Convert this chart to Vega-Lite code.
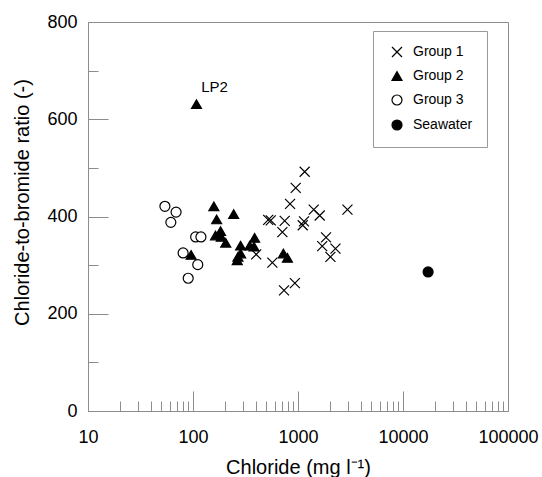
{
  "$schema": "https://vega.github.io/schema/vega-lite/v6.json",
  "width": 420,
  "height": 389,
  "autosize": {"type": "none"},
  "padding": {"left": 88, "top": 22, "right": 34, "bottom": 66},
  "background": "white",
  "config": {
    "font": "Liberation Sans",
    "view": {"stroke": "#8c8c8c", "strokeWidth": 1},
    "axis": {
      "grid": false,
      "domainColor": "#8c8c8c",
      "tickColor": "#8c8c8c",
      "labelColor": "black",
      "titleColor": "black",
      "labelFont": "Liberation Sans",
      "titleFont": "Liberation Sans",
      "titleFontWeight": "normal"
    },
    "legend": {
      "title": null,
      "orient": "none",
      "legendX": 285,
      "legendY": 9,
      "padding": 14,
      "strokeColor": "#999999",
      "fillColor": "white",
      "labelFontSize": 14,
      "labelFont": "Liberation Sans",
      "labelColor": "black",
      "labelOffset": 9,
      "symbolOffset": 3,
      "rowPadding": 9,
      "symbolSize": 100,
      "symbolStrokeColor": "black",
      "symbolStrokeWidth": 1.2
    }
  },
  "data": {
    "values": [
      {"cl": 1158, "ratio": 492, "group": "Group 1"},
      {"cl": 951, "ratio": 459, "group": "Group 1"},
      {"cl": 840, "ratio": 426, "group": "Group 1"},
      {"cl": 1412, "ratio": 414, "group": "Group 1"},
      {"cl": 1610, "ratio": 402, "group": "Group 1"},
      {"cl": 2958, "ratio": 414, "group": "Group 1"},
      {"cl": 520, "ratio": 393, "group": "Group 1"},
      {"cl": 550, "ratio": 392, "group": "Group 1"},
      {"cl": 747, "ratio": 391, "group": "Group 1"},
      {"cl": 710, "ratio": 368, "group": "Group 1"},
      {"cl": 1141, "ratio": 390, "group": "Group 1"},
      {"cl": 1109, "ratio": 382, "group": "Group 1"},
      {"cl": 1849, "ratio": 357, "group": "Group 1"},
      {"cl": 1701, "ratio": 339, "group": "Group 1"},
      {"cl": 2274, "ratio": 334, "group": "Group 1"},
      {"cl": 2036, "ratio": 317, "group": "Group 1"},
      {"cl": 400, "ratio": 322, "group": "Group 1"},
      {"cl": 570, "ratio": 305, "group": "Group 1"},
      {"cl": 934, "ratio": 263, "group": "Group 1"},
      {"cl": 736, "ratio": 248, "group": "Group 1"},
      {"cl": 108, "ratio": 631, "group": "Group 2", "label": "LP2"},
      {"cl": 96, "ratio": 321, "group": "Group 2"},
      {"cl": 158, "ratio": 421, "group": "Group 2"},
      {"cl": 244, "ratio": 405, "group": "Group 2"},
      {"cl": 168, "ratio": 394, "group": "Group 2"},
      {"cl": 183, "ratio": 370, "group": "Group 2"},
      {"cl": 164, "ratio": 361, "group": "Group 2"},
      {"cl": 186, "ratio": 358, "group": "Group 2"},
      {"cl": 205, "ratio": 346, "group": "Group 2"},
      {"cl": 284, "ratio": 340, "group": "Group 2"},
      {"cl": 386, "ratio": 356, "group": "Group 2"},
      {"cl": 347, "ratio": 340, "group": "Group 2"},
      {"cl": 381, "ratio": 338, "group": "Group 2"},
      {"cl": 284, "ratio": 324, "group": "Group 2"},
      {"cl": 268, "ratio": 317, "group": "Group 2"},
      {"cl": 264, "ratio": 310, "group": "Group 2"},
      {"cl": 726, "ratio": 324, "group": "Group 2"},
      {"cl": 793, "ratio": 315, "group": "Group 2"},
      {"cl": 54, "ratio": 421, "group": "Group 3"},
      {"cl": 69, "ratio": 409, "group": "Group 3"},
      {"cl": 61.5, "ratio": 388, "group": "Group 3"},
      {"cl": 106, "ratio": 358, "group": "Group 3"},
      {"cl": 119, "ratio": 358, "group": "Group 3"},
      {"cl": 80.5, "ratio": 325, "group": "Group 3"},
      {"cl": 111, "ratio": 301, "group": "Group 3"},
      {"cl": 90, "ratio": 273, "group": "Group 3"},
      {"cl": 17340, "ratio": 286, "group": "Seawater"}
    ]
  },
  "layer": [
    {
      "mark": {"type": "point", "strokeWidth": 1.2, "opacity": 1},
      "encoding": {
        "x": {
          "field": "cl", "type": "quantitative",
          "scale": {"type": "log", "domain": [10, 100000], "nice": false},
          "axis": {
            "values": [10, 100, 1000, 10000, 100000],
            "format": "d",
            "tickSize": -20,
            "labelFontSize": 18,
            "labelPadding": 37,
            "labelFlush": false,
            "labelOverlap": false,
            "title": "Chloride (mg l⁻¹)",
            "titleFontSize": 20,
            "titleBaseline": "alphabetic",
            "titleY": 62
          }
        },
        "y": {
          "field": "ratio", "type": "quantitative",
          "scale": {"domain": [0, 800], "nice": false, "zero": true},
          "axis": {
            "values": [0, 200, 400, 600, 800],
            "tickSize": -20,
            "labelFontSize": 18,
            "labelPadding": 31,
            "title": "Chloride-to-bromide ratio (-)",
            "titleFontSize": 20,
            "titleAngle": 270,
            "titleAlign": "center",
            "titleBaseline": "middle",
            "titleX": -66,
            "titleY": 180
          }
        },
        "shape": {
          "field": "group", "type": "nominal",
          "scale": {
            "domain": ["Group 1", "Group 2", "Group 3", "Seawater"],
            "range": ["M-1,-1L1,1M-1,1L1,-1", "triangle-up", "circle", "circle"]
          }
        },
        "fill": {
          "field": "group", "type": "nominal",
          "scale": {
            "domain": ["Group 1", "Group 2", "Group 3", "Seawater"],
            "range": ["transparent", "black", "white", "black"]
          }
        },
        "stroke": {
          "field": "group", "type": "nominal",
          "scale": {
            "domain": ["Group 1", "Group 2", "Group 3", "Seawater"],
            "range": ["black", "black", "black", "black"]
          }
        },
        "size": {"value": 100}
      }
    },
    {
      "transform": [{"filter": "datum.label != null"}],
      "mark": {"type": "text", "fontSize": 15, "dx": 18, "dy": -17, "align": "center", "baseline": "middle", "color": "black"},
      "encoding": {
        "x": {"field": "cl", "type": "quantitative", "axis": null},
        "y": {"field": "ratio", "type": "quantitative", "axis": null},
        "text": {"field": "label"}
      }
    },
    {
      "mark": {"type": "point", "opacity": 0},
      "encoding": {
        "x": {
          "field": "cl", "type": "quantitative",
          "axis": {
            "orient": "bottom",
            "values": [20, 30, 40, 50, 60, 70, 80, 90, 200, 300, 400, 500, 600, 700, 800, 900, 2000, 3000, 4000, 5000, 6000, 7000, 8000, 9000, 20000, 30000, 40000, 50000, 60000, 70000, 80000, 90000],
            "tickSize": -10,
            "labels": false,
            "domain": false,
            "title": null
          }
        },
        "y": {
          "field": "ratio", "type": "quantitative",
          "axis": {
            "orient": "left",
            "values": [100, 300, 500, 700],
            "tickSize": -10,
            "labels": false,
            "domain": false,
            "title": null
          }
        }
      }
    }
  ],
  "resolve": {"axis": {"x": "independent", "y": "independent"}}
}
